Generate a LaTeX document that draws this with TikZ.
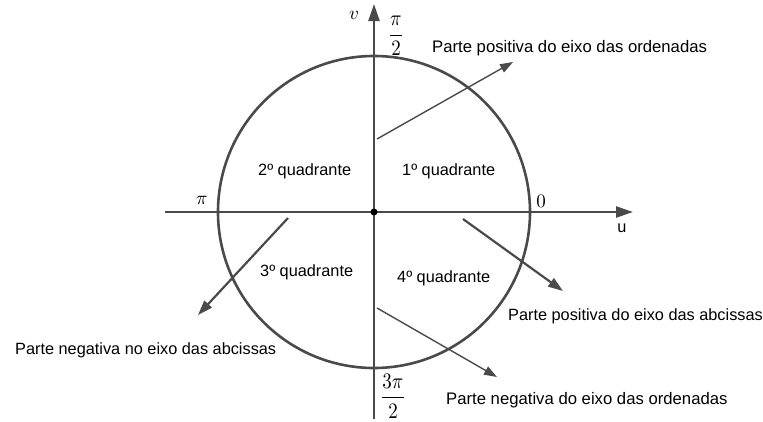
\documentclass[tikz,border=0pt]{standalone}
\usepackage[no-math]{fontspec}
\newfontfamily\arialf{Liberation Sans}
\usetikzlibrary{arrows.meta}
\definecolor{ln}{HTML}{4A4A4A}
\tikzset{
  axisline/.style={line width=2.4pt, draw=ln, -{Triangle[length=17pt,width=11pt]}},
  thickarr/.style={line width=2.2pt, draw=ln, -{Triangle[length=15pt,width=10pt]}},
  thinarr/.style={line width=1.4pt, draw=ln, -{Triangle[length=13pt,width=9pt]}},
  lbl/.style={font=\arialf\fontsize{16.3}{20}\selectfont, inner sep=0pt, anchor=base west},
  lblb/.style={lbl, font=\arialf\fontsize{16.7}{20}\selectfont},
  mlbl/.style={inner sep=0pt}
}
\begin{document}
\begin{tikzpicture}[x=1pt,y=-1pt]
\useasboundingbox (0,0) rectangle (763,421);
\coordinate (O) at (374,212);
\draw[line width=2.6pt, draw=ln] (O) circle[radius=156];
% axes
\coordinate (xs) at (165,212);
\coordinate (xe) at (633,212);
\coordinate (ys) at (374,419);
\coordinate (ye) at (374,4);
\draw[axisline] (xs) -- (xe);
\draw[axisline] (ys) -- (ye);
\fill[black] (O) circle[radius=3.5];
% math labels
\node[mlbl] (v) at (354,15) {\scalebox{1.9}{$v$}};
\node[mlbl] (pi2) at (396,36) {\scalebox{1.9}[2.2]{$\displaystyle\frac{\pi}{2}$}};
\node[mlbl] (pi) at (202,200) {\scalebox{1.9}{$\pi$}};
\node[mlbl] (zero) at (541,201) {\scalebox{1.9}{$0$}};
\node[mlbl] (tpi2) at (393,396) {\scalebox{1.9}[2.2]{$\displaystyle\frac{3\pi}{2}$}};
\node[font=\arialf\fontsize{16.3}{20}\selectfont, inner sep=0pt] (u) at (622,228) {u};
% quadrant labels
\node[lbl] (q2) at (258,175) {2º quadrante};
\node[lbl] (q1) at (402,175) {1º quadrante};
\node[lbl] (q3) at (260,276) {3º quadrante};
\node[lbl] (q4) at (397,282) {4º quadrante};
% descriptive labels
\node[lblb] (ppo) at (432,52) {Parte positiva do eixo das ordenadas};
\node[lbl] (ppa) at (508,320) {Parte positiva do eixo das abcissas};
\node[lbl] (pna) at (15,354) {Parte negativa no eixo das abcissas};
\node[lblb] (pno) at (446,404) {Parte negativa do eixo das ordenadas};
% arrows
\coordinate (a1s) at (377,139); \coordinate (a1e) at (513,62);
\coordinate (a2s) at (377,308); \coordinate (a2e) at (497,377);
\coordinate (a3s) at (288,218); \coordinate (a3e) at (198,315);
\coordinate (a4s) at (463,219); \coordinate (a4e) at (563,291);
\draw[thinarr] (a1s) -- (a1e);
\draw[thinarr] (a2s) -- (a2e);
\draw[thickarr] (a3s) -- (a3e);
\draw[thickarr] (a4s) -- (a4e);
\end{tikzpicture}
\end{document}
